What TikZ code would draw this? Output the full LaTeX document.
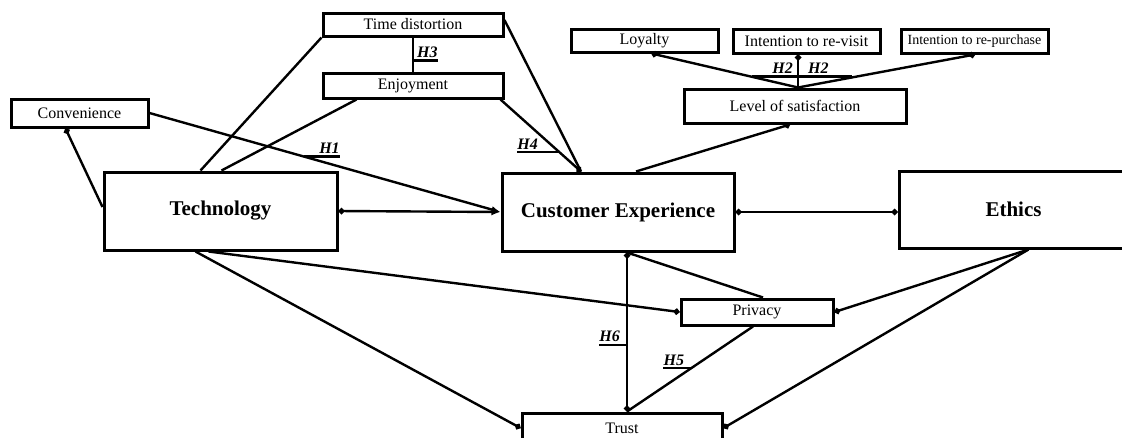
\documentclass[tikz,border=0pt]{standalone}
\usepackage{fontspec}
\setmainfont{Liberation Serif}
\usetikzlibrary{arrows.meta,positioning}

\begin{document}
\begin{tikzpicture}[x=1pt, y=-1pt,
    box/.style={draw, line width=3pt, inner sep=0pt, font=\fontsize{16}{19}\selectfont},
    bigbox/.style={box, font=\fontsize{21}{25}\selectfont\bfseries},
    conn/.style={line width=2.4pt},
    bul/.tip={Circle[length=6pt]},
    hd/.tip={Latex[length=9pt,width=7pt]},
    hlab/.style={inner sep=0pt, font=\fontsize{16}{19}\selectfont\bfseries\itshape}]
\useasboundingbox (0,0) rectangle (1122,437);

\node[box, minimum width=180pt, minimum height=23pt] (timedist) at (413,24.5) {Time distortion};
\node[box, minimum width=180pt, minimum height=25pt] (enjoy) at (413,85.5) {Enjoyment};
\node[box, minimum width=137pt, minimum height=28pt] (conv) at (79.5,113) {Convenience};
\node[bigbox, minimum width=233pt, minimum height=78pt] (tech) at (220.5,211) {Technology};
\node[bigbox, minimum width=232pt, minimum height=78pt] (custexp) at (618,212) {Customer Experience};
\node[bigbox, minimum width=229pt, minimum height=77pt] (ethics) at (1013.5,209.5) {Ethics};
\node[box, minimum width=147pt, minimum height=23pt] (loyalty) at (644.5,40.5) {Loyalty};
\node[box, minimum width=147pt, minimum height=24pt] (revisit) at (806.5,41) {Intention to re-visit};
\node[box, minimum width=147pt, minimum height=24pt, font=\fontsize{14}{17}\selectfont] (repurch) at (974.5,41) {Intention to re-purchase};
\node[box, minimum width=222pt, minimum height=34pt] (satisf) at (795,106) {Level of satisfaction};
\node[box, minimum width=152pt, minimum height=26pt] (privacy) at (757,312) {Privacy};
\node[box, minimum width=200pt, minimum height=30pt] (trust) at (622,428) {Trust};

\draw[conn] (timedist.south west) -- ([xshift=98pt]tech.north west);
\draw[conn] ([xshift=35pt]enjoy.south west) -- ([xshift=119pt]tech.north west);
\draw[conn, bul-] ([xshift=56pt]conv.south west) -- ([yshift=4pt]tech.west);
\draw[conn, -hd] (conv.east) -- coordinate[pos=0.44] (h1c) (custexp.west);
\draw[conn, bul-hd] (tech.east) -- (custexp.west);
\draw[conn] (timedist.south) -- coordinate[pos=0.68] (h3c) (enjoy.north);
\draw[conn, -bul] ([xshift=-4pt]enjoy.south east) -- coordinate[pos=0.73] (h4c) ([xshift=-37pt]custexp.north);
\draw[conn] ([yshift=4.5pt]timedist.east) -- ([xshift=-37pt]custexp.north);

\coordinate (sattop) at ([xshift=3pt]satisf.north);
\draw[conn, bul-] ([xshift=7pt]loyalty.south) -- (sattop);
\draw[conn, bul-] (sattop |- revisit.south) -- coordinate[pos=0.67] (h2c) (sattop);
\draw[conn, bul-] ([xshift=0.5pt]repurch.south) -- (sattop);
\draw[conn, -bul] ([xshift=18pt]custexp.north) -- ([xshift=-5pt]satisf.south);
\draw[conn, bul-bul] (custexp.east) -- (custexp.east -| ethics.west);

\draw[conn, -bul] ([xshift=93pt]tech.south west) -- (trust.west);
\draw[conn, -bul] ([xshift=106pt]tech.south west) -- (privacy.west);
\draw[conn, bul-bul] ([xshift=9pt]custexp.south) -- coordinate[pos=0.58] (h6c) ([xshift=9pt]custexp.south |- trust.north);
\draw[conn] ([xshift=9pt]custexp.south) -- ([xshift=6pt]privacy.north);
\draw[conn] ([xshift=-4pt]privacy.south) -- coordinate[pos=0.49] (h5c) ([xshift=5pt]trust.north);
\coordinate (ethbot) at ([xshift=131pt]ethics.south west);
\draw[conn, -bul] (ethbot) -- (privacy.east);
\draw[conn, -bul] (ethbot) -- (trust.east);

\node[hlab, anchor=south east] (h1) at ([xshift=36pt,yshift=2.5pt]h1c) {H1};
\draw[conn] (h1c) -- (h1c -| h1.east);
\node[hlab, anchor=south west] (h3) at ([xshift=4pt,yshift=2.5pt]h3c) {H3};
\draw[conn] (h3c) -- (h3c -| h3.east);
\node[hlab, anchor=south west] (h4) at ([xshift=-42pt,yshift=2.5pt]h4c) {H4};
\draw[conn] (h4c) -- (h4c -| h4.west);
\node[hlab, anchor=south east] (h2a) at ([xshift=-5pt,yshift=2.5pt]h2c) {H2};
\node[hlab, anchor=south west] (h2b) at ([xshift=10pt,yshift=2.5pt]h2c) {H2};
\draw[conn] ([xshift=-46pt]h2c) -- ([xshift=54pt]h2c);
\node[hlab, anchor=south east] (h6) at ([xshift=-7pt,yshift=2.5pt]h6c) {H6};
\draw[conn] (h6c) -- (h6c -| h6.west);
\node[hlab, anchor=south east] (h5) at ([xshift=-7pt,yshift=2.5pt]h5c) {H5};
\draw[conn] (h5c) -- (h5c -| h5.west);
\end{tikzpicture}
\end{document}
